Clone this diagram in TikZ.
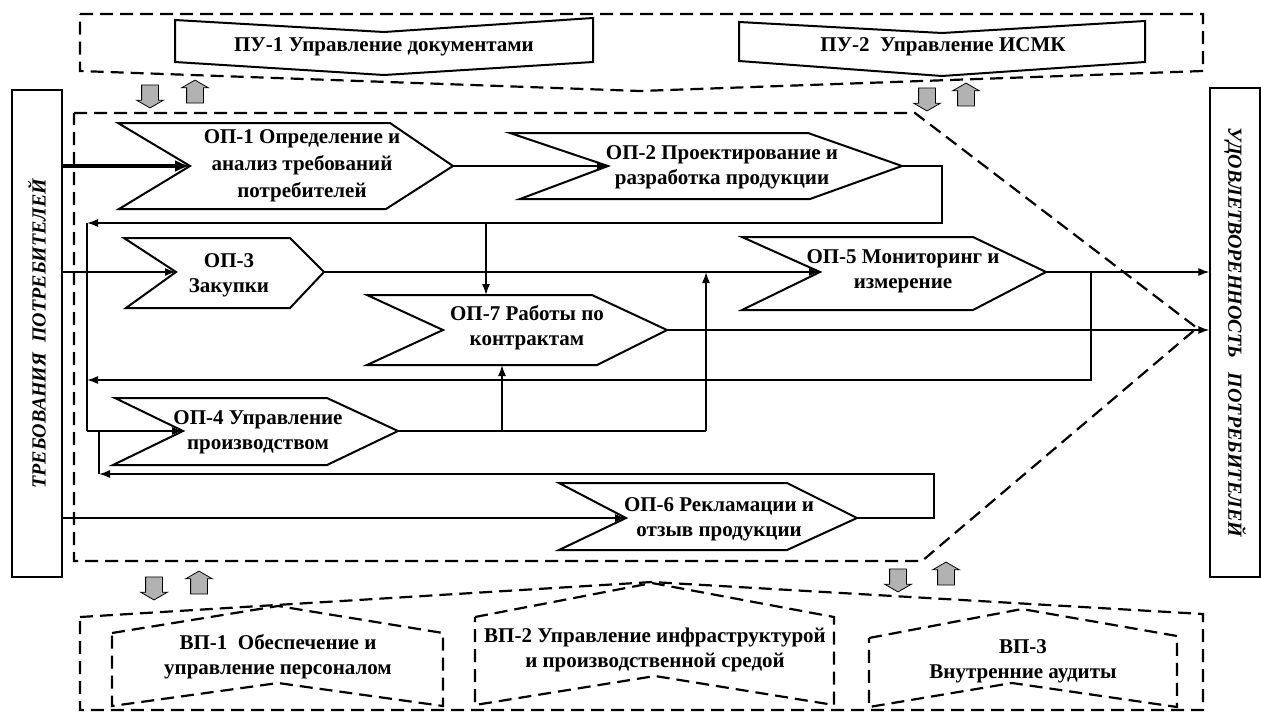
\documentclass[tikz,border=0pt]{standalone}
\usepackage{fontspec}
\setmainfont{Liberation Serif}
\usetikzlibrary{arrows.meta,shapes.arrows}

\begin{document}
\begin{tikzpicture}[x=1pt,y=-1pt,>={Latex[length=11pt,width=8pt]}]
	\tikzstyle{proc}=[line width=2pt]
	\tikzstyle{grp}=[line width=2.2pt,dash pattern=on 13pt off 7pt]
	\tikzstyle{txt}=[align=center,inner sep=0pt,font=\fontsize{21}{25}\selectfont\bfseries]
	\tikzstyle{side}=[draw,line width=1.2pt,minimum width=487pt,minimum height=50pt,inner sep=0pt,font=\fontsize{20}{22}\selectfont\bfseries\itshape]
	\tikzstyle{garrow}=[single arrow,draw,fill=black!30,line width=0.8pt,inner xsep=0pt,inner ysep=8pt,minimum height=23pt,single arrow head extend=5pt,single arrow tip angle=120]
	\tikzstyle{link}=[line width=1.6pt]

	\fill[white] (0,0) rectangle (1261,713);
	\useasboundingbox (0,0) rectangle (1261,713);

	%% side boxes
	\node[side,rotate=90] (req) at (37,333.5) {ТРЕБОВАНИЯ\ \ ПОТРЕБИТЕЛЕЙ};
	\node[side,rotate=-90,minimum width=489pt] (sat) at (1235,332.5) {УДОВЛЕТВОРЕННОСТЬ\ \ \ ПОТРЕБИТЕЛЕЙ};

	%% group borders
	\draw[grp] (80,14) -- (1203,14) -- (1203,71) -- (640,91) -- (80,71) -- cycle;
	\draw[grp] (74,113) -- (915,113) -- (1197,328) -- (922,561) -- (74,561) -- cycle;
	\draw[grp] (80,617) -- (652,582) -- (1203,614) -- (1203,710) -- (80,710) -- cycle;

	%% management processes
	\draw[proc] (175,20) -- (384,32) -- (593,18) -- (593,62) -- (384,75) -- (175,62) -- cycle;
	\node[txt] (pu1) at (384,47) {ПУ-1 Управление документами};
	\draw[proc] (739,22) -- (942,33) -- (1145,21) -- (1145,62) -- (942,76) -- (739,61) -- cycle;
	\node[txt] (pu2) at (943,47) {ПУ-2\ \ Управление ИСМК};

	%% core processes
	\draw[proc] (118,123) -- (390,123) -- (453,166) -- (386,209) -- (119,209) -- (190,166) -- cycle;
	\coordinate (op1in) at (190,166);
	\coordinate (op1out) at (453,166);
	\node[txt,font=\fontsize{21}{27}\selectfont\bfseries] (op1) at (302,166) {ОП-1 Определение и\\анализ требований\\потребителей};

	\draw[proc] (510,133) -- (808,133) -- (902,166) -- (810,199) -- (520,199) -- (608,166) -- cycle;
	\coordinate (op2in) at (608,166);
	\coordinate (op2out) at (902,166);
	\node[txt] (op2) at (722,167) {ОП-2 Проектирование и\\разработка продукции};

	\draw[proc] (124,238) -- (290,238) -- (324,272) -- (290,308) -- (126,308) -- (176,272) -- cycle;
	\coordinate (op3in) at (176,272);
	\coordinate (op3out) at (324,272);
	\node[txt] (op3) at (229,275) {ОП-3\\Закупки};

	\draw[proc] (115,398) -- (327,398) -- (398,431) -- (327,465) -- (113,465) -- (183,431) -- cycle;
	\coordinate (op4in) at (183,431);
	\coordinate (op4out) at (398,431);
	\node[txt] (op4) at (258,432) {ОП-4 Управление\\производством};

	\draw[proc] (742,237) -- (973,237) -- (1046,272) -- (973,310) -- (742,310) -- (820,272) -- cycle;
	\coordinate (op5in) at (820,272);
	\coordinate (op5out) at (1046,272);
	\node[txt] (op5) at (903,271) {ОП-5 Мониторинг и\\измерение};

	\draw[proc] (559,483) -- (787,483) -- (857,518) -- (787,550) -- (559,550) -- (626,518) -- cycle;
	\coordinate (op6in) at (626,518);
	\coordinate (op6out) at (857,518);
	\node[txt] (op6) at (719,519) {ОП-6 Рекламации и\\отзыв продукции};

	\draw[proc] (367,295) -- (592,295) -- (667,330) -- (597,365) -- (367,365) -- (443,330) -- cycle;
	\coordinate (op7in) at (443,330);
	\coordinate (op7out) at (667,330);
	\node[txt] (op7) at (527,328) {ОП-7 Работы по\\контрактам};

	%% support processes
	\draw[grp] (112,633) -- (278,606) -- (443,633) -- (443,706) -- (278,683) -- (112,706) -- cycle;
	\node[txt] (vp1) at (278,657) {ВП-1\ \ Обеспечение и\\управление персоналом};
	\draw[grp] (475,617) -- (652,583) -- (834,617) -- (834,705) -- (655,676) -- (475,705) -- cycle;
	\node[txt] (vp2) at (655,650) {ВП-2 Управление инфраструктурой\\и производственной средой};
	\draw[grp] (869,638) -- (1022,609) -- (1177,636) -- (1177,707) -- (1012,683) -- (869,707) -- cycle;
	\node[txt] (vp3) at (1023,661) {ВП-3\\Внутренние аудиты};

	%% gray exchange arrows
	\node[garrow,rotate=-90] (dn1) at (150,94) {};
	\node[garrow,rotate=90] (up1) at (195,94) {};
	\node[garrow,rotate=-90] (dn2) at (927,97) {};
	\node[garrow,rotate=90] (up2) at (966,97) {};
	\node[garrow,rotate=-90] (dn3) at (154,586) {};
	\node[garrow,rotate=90] (up3) at (199,585) {};
	\node[garrow,rotate=-90] (dn4) at (898,578) {};
	\node[garrow,rotate=90] (up4) at (946,576) {};

	%% bends of the connectors
	\coordinate (c2a) at (942,166);
	\coordinate (c2b) at (942,223);
	\coordinate (bus1) at (87,223);
	\coordinate (bus2) at (87,431);
	\coordinate (bus3) at (87,380);
	\coordinate (drop) at (486,223);
	\coordinate (op7top) at (486,295);
	\coordinate (c5a) at (1091,272);
	\coordinate (c5b) at (1091,380);
	\coordinate (up7) at (502,431);
	\coordinate (op7bot) at (502,365);
	\coordinate (up5) at (706,431);
	\coordinate (c6a) at (934,518);
	\coordinate (c6b) at (934,474);
	\coordinate (c6c) at (99,474);

	%% connectors
	\draw[link,line width=4pt,-{Latex[length=15pt,width=12pt]}] (req.south |- op1in) -- (op1in);
	\path[link,->]
		(op1out) edge (op2in)
		(req.south |- op3in) edge (op3in)
		(op3out) edge (op5in)
		(op5out) edge (sat.south |- op5out)
		(op7out) edge (sat.south |- op7out)
		(req.south |- op6in) edge (op6in)
		(drop) edge (op7top)
		(up7) edge (op7bot)
		(up5) edge (up5 |- op3out)
		(bus2) edge (op4in);
	\draw[link,->] (op2out) -- (c2a) -- (c2b) -- (bus1);
	\draw[link] (bus1) -- (bus2);
	\draw[link,->] (c5a) -- (c5b) -- (bus3);
	\draw[link] (op4out) -- (up5);
	\draw[link,->] (op6out) -- (c6a) -- (c6b) -- (c6c);
	\draw[link] (c6c) -- (c6c |- op4in);
\end{tikzpicture}
\end{document}
